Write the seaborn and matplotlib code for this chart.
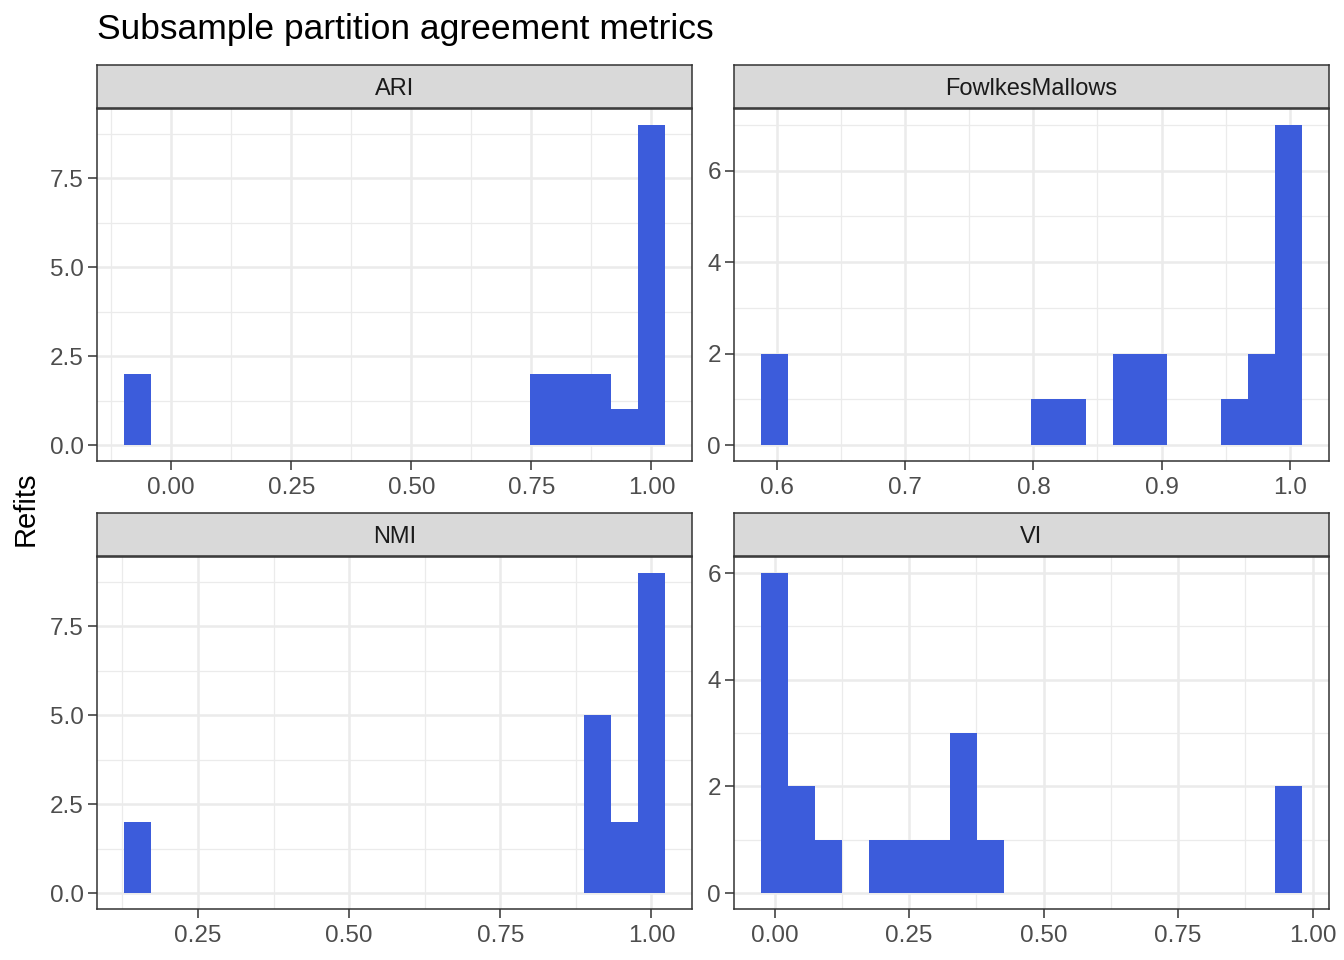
import numpy as np
import pandas as pd
import matplotlib
matplotlib.use("Agg")
import matplotlib.pyplot as plt
import seaborn as sns

# Refit values per metric (18 refits each)
ari_values = [-0.070, -0.070, 0.775, 0.775, 0.831, 0.831, 0.887, 0.887, 0.944,
              1.0, 1.0, 1.0, 1.0, 1.0, 1.0, 1.0, 1.0, 1.0]
fm_values = [0.598, 0.598, 0.809, 0.830, 0.872, 0.872, 0.893, 0.893, 0.956,
             0.977, 0.977, 0.999, 0.999, 0.999, 0.999, 0.999, 0.999, 0.999]
nmi_values = [0.150, 0.150, 0.911, 0.911, 0.911, 0.911, 0.911, 0.955, 0.955,
              1.0, 1.0, 1.0, 1.0, 1.0, 1.0, 1.0, 1.0, 1.0]
vi_values = [0.0, 0.0, 0.0, 0.0, 0.0, 0.0, 0.050, 0.050, 0.101,
             0.201, 0.251, 0.302, 0.352, 0.352, 0.352, 0.402, 0.955, 0.955]

metrics = ["ARI", "FowlkesMallows", "NMI", "VI"]
x_ticks = {
    "ARI": [0.0, 0.25, 0.5, 0.75, 1.0],
    "FowlkesMallows": [0.6, 0.7, 0.8, 0.9, 1.0],
    "NMI": [0.25, 0.5, 0.75, 1.0],
    "VI": [0.0, 0.25, 0.5, 0.75, 1.0],
}
x_fmt = {"ARI": "{:.2f}", "FowlkesMallows": "{:.1f}", "NMI": "{:.2f}", "VI": "{:.2f}"}
y_ticks = {
    "ARI": [0, 2.5, 5.0, 7.5],
    "FowlkesMallows": [0, 2, 4, 6],
    "NMI": [0, 2.5, 5.0, 7.5],
    "VI": [0, 2, 4, 6],
}
y_fmt = {"ARI": "{:.1f}", "FowlkesMallows": "{:.0f}", "NMI": "{:.1f}", "VI": "{:.0f}"}

df = pd.DataFrame({
    "metric": ["ARI"] * len(ari_values) + ["FowlkesMallows"] * len(fm_values)
              + ["NMI"] * len(nmi_values) + ["VI"] * len(vi_values),
    "value": ari_values + fm_values + nmi_values + vi_values,
})

sns.set_theme(style="white")
plt.rcParams["font.family"] = ["Liberation Sans", "DejaVu Sans"]

W, H = 1344, 960
fig = plt.figure(figsize=(W / 100, H / 100), dpi=100)

def px_axes(x0, y0, x1, y1):
    return fig.add_axes([x0 / W, 1 - y1 / H, (x1 - x0) / W, (y1 - y0) / H])

positions = {
    "ARI": (97, 109, 692, 461),
    "FowlkesMallows": (734, 109, 1329, 461),
    "NMI": (97, 557, 692, 909),
    "VI": (734, 557, 1329, 909),
}
bar_color = "#3C5CDB"
grid_col = "#EBEBEB"
edge_col = "#333333"
tick_col = "#4D4D4D"

for m in metrics:
    x0, y0, x1, y1 = positions[m]
    ax = px_axes(x0, y0, x1, y1)
    sub = df[df.metric == m]
    vmin, vmax = sub.value.min(), sub.value.max()
    nb = 20
    w = (vmax - vmin) / (nb - 1)
    edges = np.linspace(vmin - w / 2, vmax + w / 2, nb + 1)
    sns.histplot(data=sub, x="value", bins=edges, ax=ax, color=bar_color,
                 alpha=1, edgecolor="none", linewidth=0, zorder=3)
    xt = x_ticks[m]
    yt = y_ticks[m]
    ax.set_xticks(xt)
    ax.set_xticklabels([x_fmt[m].format(v) for v in xt])
    ax.set_yticks(yt)
    ax.set_yticklabels([y_fmt[m].format(v) for v in yt])
    # minor gridlines
    dx = xt[1] - xt[0]
    dy = yt[1] - yt[0]
    xminor = np.arange(xt[0] - dx / 2, xt[-1] + dx, dx)
    yminor = np.arange(yt[0] - dy / 2, yt[-1] + dy, dy)
    ax.set_xticks(xminor, minor=True)
    ax.set_yticks(yminor, minor=True)
    # limits with 5% expansion (set after ticks)
    rng = edges[-1] - edges[0]
    ax.set_xlim(edges[0] - 0.05 * rng, edges[-1] + 0.05 * rng)
    counts, _ = np.histogram(sub.value, bins=edges)
    ymax = counts.max()
    ax.set_ylim(-0.05 * ymax, ymax * 1.05)
    ax.grid(True, which="major", color=grid_col, linewidth=1.8, zorder=0)
    ax.grid(True, which="minor", color=grid_col, linewidth=0.9, zorder=0)
    ax.set_axisbelow(True)
    ax.tick_params(axis="x", which="major", pad=5)
    ax.tick_params(axis="y", which="major", pad=3)
    ax.tick_params(axis="both", which="major", length=6.5, width=1.1, color=edge_col,
                   labelsize=17.5, labelcolor=tick_col, bottom=True, left=True)
    ax.tick_params(axis="both", which="minor", length=0)
    ax.set_xlabel("")
    ax.set_ylabel("")
    for s in ax.spines.values():
        s.set_color(edge_col)
        s.set_linewidth(1.1)
        s.set_visible(True)
    ax.set_facecolor("white")
    # strip
    sax = px_axes(x0, y0 - 44, x1, y0 - 1)
    sax.set_facecolor("#D9D9D9")
    sax.set_xticks([])
    sax.set_yticks([])
    for s in sax.spines.values():
        s.set_color(edge_col)
        s.set_linewidth(1.1)
    sax.text(0.5, 0.45, m, ha="center", va="center", fontsize=17,
             color="#1A1A1A", transform=sax.transAxes)

fig.text(97 / W, 1 - 30 / H, "Subsample partition agreement metrics",
         fontsize=25.5, ha="left", va="center", color="black")
fig.text(26 / W, 1 - 509 / H, "Refits", rotation=90, fontsize=21,
         ha="center", va="center", color="black")

fig.savefig("out.png", dpi=100, facecolor="white")
